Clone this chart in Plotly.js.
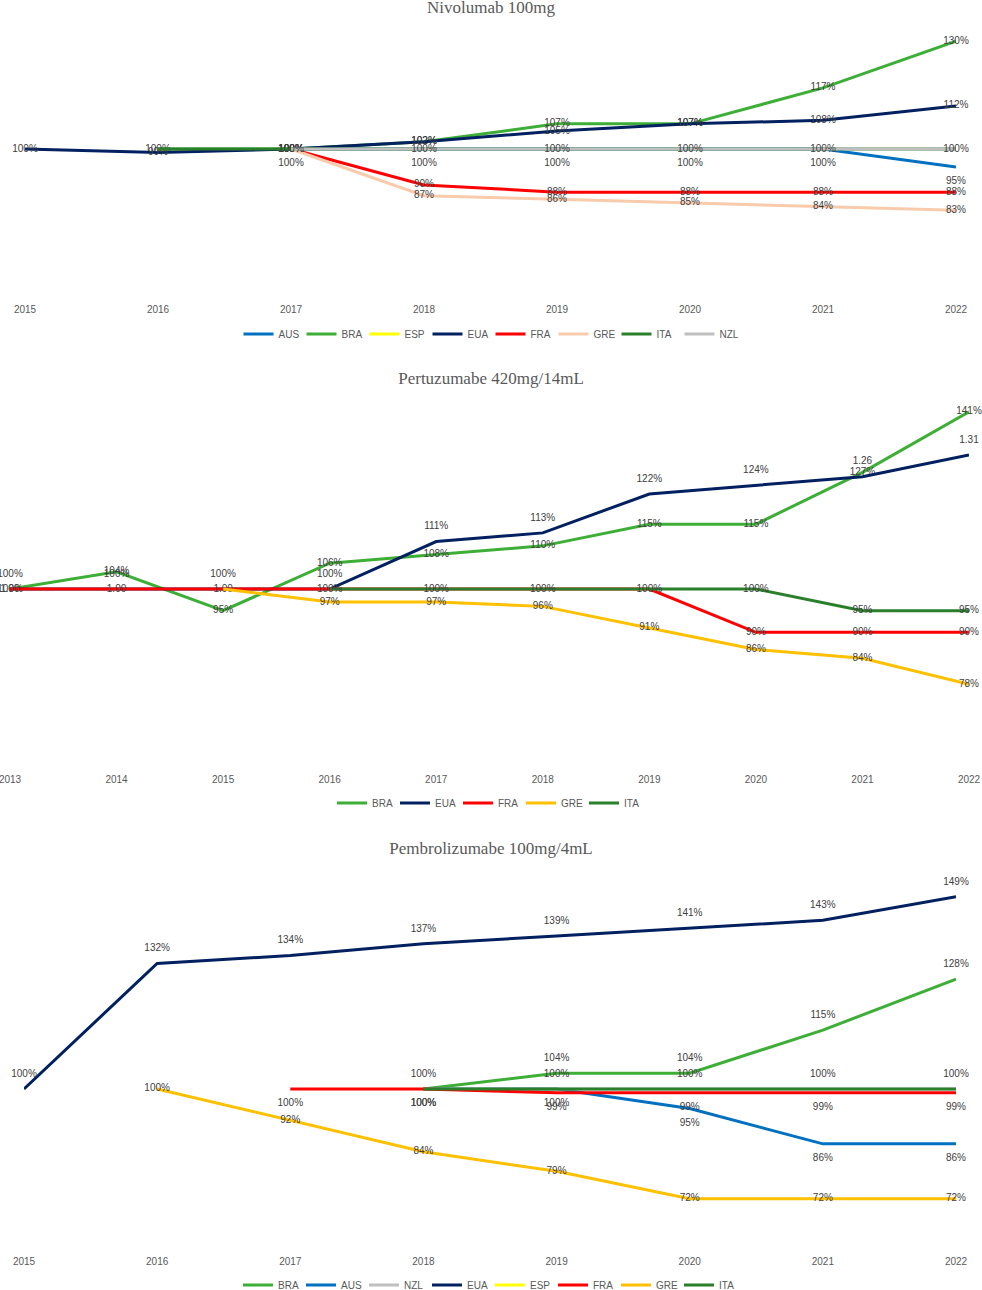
<!DOCTYPE html>
<html>
<head>
<meta charset="utf-8">
<script src="https://cdn.plot.ly/plotly-3.0.1.min.js"></script>
<style>
  body { margin: 0; background: #fff; }
  .chart { width: 982px; }
</style>
</head>
<body>
<div id="nivo-chart" class="chart" style="height:350px"></div>
<div id="pertu-chart" class="chart" style="height:470px"></div>
<div id="pembro-chart" class="chart" style="height:470px"></div>
<script>
// Series colours, same as the spreadsheet palette
const COLORS = {
  AUS: '#0070C0',
  BRA: '#3DAE36',
  ESP: '#FFFF00',
  EUA: '#002060',
  FRA: '#FF0000',
  GRE_LIGHT: '#F8CBAD',
  GRE: '#FFC000',
  ITA: '#2A7F2A',
  NZL: '#BFBFBF'
};

// ---- Nivolumab 100mg ----
const nivoYears = [2015, 2016, 2017, 2018, 2019, 2020, 2021, 2022];
const nivoAUS = [null, null, 100, 100, 100, 100, 100, 95];
const nivoBRA = [null, 100, 100, 102, 107, 107, 117, 130];
const nivoESP = [null, null, null, null, null, null, null, null]; // legend only, no visible line
const nivoEUA = [100, 99, 100, 102, 105, 107, 108, 112];
const nivoFRA = [null, null, 100, 90, 88, 88, 88, 88];
const nivoGRE = [null, null, 100, 87, 86, 85, 84, 83];
const nivoITA = [null, 100, 100, 100, 100, 100, 100, 100];
const nivoNZL = [null, null, 100, 100, 100, 100, 100, 100];

// ---- Pertuzumabe 420mg/14mL ----
const pertuYears = [2013, 2014, 2015, 2016, 2017, 2018, 2019, 2020, 2021, 2022];
const pertuBRA = [100, 104, 95, 106, 108, 110, 115, 115, 127, 141];
const pertuEUA = [100, 100, 100, 100, 111, 113, 122, 124, 126, 131];
const pertuEUALabels = ['100%', '100%', '100%', '100%', '111%', '113%', '122%', '124%', '1.26', '1.31'];
const pertuFRA = [100, 100, 100, 100, 100, 100, 100, 90, 90, 90];
const pertuFRALabels = ['1.00', '1.00', '1.00', '', '', '', '', '90%', '90%', '90%'];
const pertuGRE = [null, null, 100, 97, 97, 96, 91, 86, 84, 78];
const pertuITA = [null, null, null, 100, 100, 100, 100, 100, 95, 95];

// ---- Pembrolizumabe 100mg/4mL ----
const pembroYears = [2015, 2016, 2017, 2018, 2019, 2020, 2021, 2022];
const pembroBRA = [null, null, null, 100, 104, 104, 115, 128];
const pembroBRALabels = ['', '', '', '', '104%', '104%', '115%', '128%'];
const pembroAUS = [null, null, null, 100, 100, 95, 86, 86];
const pembroNZL = [null, null, null, 100, 100, 100, 100, 100];
const pembroEUA = [100, 132, 134, 137, 139, 141, 143, 149];
const pembroESP = [null, null, null, null, null, null, null, null]; // legend only
const pembroFRA = [null, null, 100, 100, 99, 99, 99, 99];
const pembroGRE = [null, 100, 92, 84, 79, 72, 72, 72];
const pembroITA = [null, null, null, 100, 100, 100, 100, 100];

const LABEL_FONT = { family: 'Liberation Sans, Arial, sans-serif', size: 10, color: '#404040' };
const AXIS_FONT = { family: 'Liberation Sans, Arial, sans-serif', size: 10, color: '#595959' };
const TITLE_FONT = { family: 'Liberation Serif, Times New Roman, serif', size: 17, color: '#595959' };

// percent labels straight from the values
function pct(values) {
  return values.map(v => (v == null ? '' : v + '%'));
}

function lineTrace(name, x, y, color, text, textpos) {
  const trace = {
    type: 'scatter',
    name: name,
    x: x,
    y: y,
    mode: text ? 'lines+markers+text' : 'lines',
    line: { color: color, width: 3 },
    // transparent markers, only there to push top/bottom labels off the line
    marker: { size: 14, color: 'rgba(0,0,0,0)', line: { width: 0 } },
    hoverinfo: 'skip',
    cliponaxis: false
  };
  if (text) {
    trace.text = text;
    trace.textposition = textpos || 'middle center';
    trace.textfont = LABEL_FONT;
  }
  return trace;
}

function chartLayout(opts) {
  return {
    width: 982,
    height: opts.height,
    margin: { l: opts.l, r: opts.r, t: opts.t, b: opts.b },
    paper_bgcolor: 'white',
    plot_bgcolor: 'white',
    title: {
      text: opts.title,
      font: TITLE_FONT,
      x: 0.5,
      xanchor: 'center',
      yref: 'container',
      y: 1 - opts.titleY / opts.height,
      yanchor: 'middle'
    },
    xaxis: {
      range: [opts.years[0], opts.years[opts.years.length - 1]],
      tickvals: opts.years,
      ticktext: opts.years.map(String),
      showgrid: false,
      zeroline: false,
      showline: false,
      ticks: 'outside',
      ticklen: 5,
      tickcolor: 'rgba(0,0,0,0)',
      tickfont: AXIS_FONT,
      ticklabeloverflow: 'allow',
      automargin: false
    },
    yaxis: {
      range: opts.yRange,
      showgrid: false,
      zeroline: false,
      showline: false,
      showticklabels: false,
      ticks: ''
    },
    showlegend: true,
    legend: {
      orientation: 'h',
      x: 0.5,
      xanchor: 'center',
      yref: 'container',
      y: 1 - opts.legendY / opts.height,
      yanchor: 'middle',
      font: AXIS_FONT,
      itemwidth: 30,
      entrywidth: 18,
      entrywidthmode: 'pixels',
      bgcolor: 'rgba(0,0,0,0)'
    }
  };
}

const config = { displayModeBar: false, staticPlot: true };

// Nivolumab chart
function createNivoChart() {
  const data = [
    lineTrace('AUS', nivoYears, nivoAUS, COLORS.AUS, pct(nivoAUS), 'bottom center'),
    lineTrace('BRA', nivoYears, nivoBRA, COLORS.BRA, pct(nivoBRA)),
    lineTrace('ESP', nivoYears, nivoESP, COLORS.ESP),
    lineTrace('EUA', nivoYears, nivoEUA, COLORS.EUA, pct(nivoEUA)),
    lineTrace('FRA', nivoYears, nivoFRA, COLORS.FRA, pct(nivoFRA)),
    lineTrace('GRE', nivoYears, nivoGRE, COLORS.GRE_LIGHT, pct(nivoGRE)),
    lineTrace('ITA', nivoYears, nivoITA, COLORS.ITA),
    lineTrace('NZL', nivoYears, nivoNZL, COLORS.NZL, pct(nivoNZL))
  ];
  const layout = chartLayout({
    title: 'Nivolumab 100mg', height: 350, titleY: 7, legendY: 334,
    years: nivoYears, l: 25, r: 26, t: 30, b: 55, yRange: [59.4, 133.1]
  });
  Plotly.newPlot('nivo-chart', data, layout, config);
}

// Pertuzumabe chart
function createPertuChart() {
  const data = [
    lineTrace('BRA', pertuYears, pertuBRA, COLORS.BRA, pct(pertuBRA)),
    lineTrace('EUA', pertuYears, pertuEUA, COLORS.EUA, pertuEUALabels, 'top center'),
    lineTrace('FRA', pertuYears, pertuFRA, COLORS.FRA, pertuFRALabels),
    lineTrace('GRE', pertuYears, pertuGRE, COLORS.GRE, pct(pertuGRE).map((t, i) => (i === 2 ? '' : t))),
    lineTrace('ITA', pertuYears, pertuITA, COLORS.ITA, pct(pertuITA))
  ];
  const layout = chartLayout({
    title: 'Pertuzumabe 420mg/14mL', height: 470, titleY: 28, legendY: 453,
    years: pertuYears, l: 10, r: 13, t: 45, b: 55, yRange: [59.3, 144.9]
  });
  Plotly.newPlot('pertu-chart', data, layout, config);
}

// Pembrolizumabe chart
function createPembroChart() {
  const data = [
    lineTrace('BRA', pembroYears, pembroBRA, COLORS.BRA, pembroBRALabels, 'top center'),
    lineTrace('AUS', pembroYears, pembroAUS, COLORS.AUS, pct(pembroAUS), 'bottom center'),
    lineTrace('NZL', pembroYears, pembroNZL, COLORS.NZL, pct(pembroNZL), 'top center'),
    lineTrace('EUA', pembroYears, pembroEUA, COLORS.EUA, pct(pembroEUA), 'top center'),
    lineTrace('ESP', pembroYears, pembroESP, COLORS.ESP),
    lineTrace('FRA', pembroYears, pembroFRA, COLORS.FRA, pct(pembroFRA), 'bottom center'),
    lineTrace('GRE', pembroYears, pembroGRE, COLORS.GRE, pct(pembroGRE)),
    lineTrace('ITA', pembroYears, pembroITA, COLORS.ITA)
  ];
  const layout = chartLayout({
    title: 'Pembrolizumabe 100mg/4mL', height: 470, titleY: 28, legendY: 465,
    years: pembroYears, l: 24, r: 26, t: 45, b: 43, yRange: [59.7, 157.1]
  });
  Plotly.newPlot('pembro-chart', data, layout, config);
}

createNivoChart();
createPertuChart();
createPembroChart();
</script>
</body>
</html>
